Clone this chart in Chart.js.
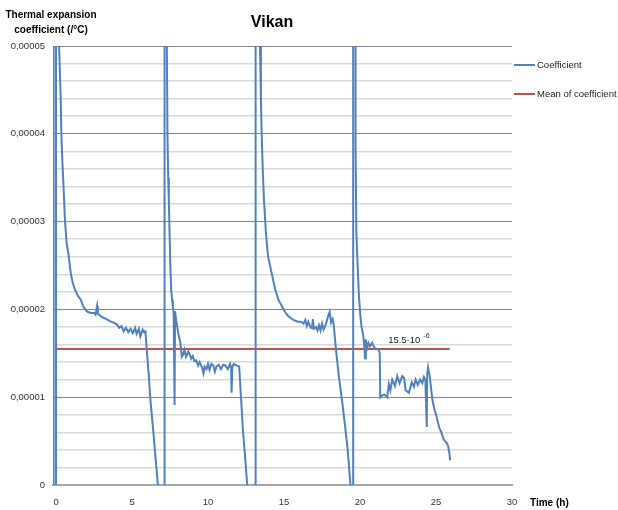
<!DOCTYPE html>
<html>
<head>
<meta charset="utf-8">
<script src="https://cdn.jsdelivr.net/npm/chart.js@4.4.0/dist/chart.umd.min.js"></script>
<style>
html, body { margin: 0; padding: 0; background: #fff; }
canvas { display: block; }
</style>
</head>
<body>
<canvas id="chart" width="618" height="510"></canvas>
<script>
// Values are in units of 1e-6 /°C, time in hours.
// +/-200 marks the off-scale jumps, null breaks the line.
const cycle1Time = [-0.17, -0.16, 0.0, 0.0, 0.1, 0.18, 0.2, 0.31, 0.35, 0.42, 0.53, 0.59, 0.7, 0.81, 0.97, 1.1, 1.26, 1.45, 1.63, 1.8, 1.96, 2.1, 2.3, 2.51, 2.6, 2.7, 2.75, 2.9, 3.04, 3.2, 3.4, 3.6, 3.8, 4.0, 4.16, 4.3, 4.45, 4.6, 4.75, 4.9, 5.05, 5.2, 5.3, 5.45, 5.55, 5.7, 5.8, 5.88, 5.97, 6.1, 6.21, 6.41, 6.55, 6.7, 6.8];
const cycle1Coef = [-200, 200, 200, -200, null, 60, 50, 43.8, 40, 36.7, 32.5, 30, 27.5, 26.4, 24.1, 23, 22.2, 21.5, 21.1, 20.3, 19.9, 19.7, 19.6, 19.6, 19.4, 20.4, 19.5, 19.3, 19.1, 19.0, 18.8, 18.6, 18.5, 18.3, 17.9, 18.1, 17.5, 17.9, 17.4, 17.8, 17.3, 17.9, 17.2, 17.8, 16.9, 17.7, 17.4, 17.5, 15.4, 12.5, 9.7, 5.9, 3.0, 0, -3];

const cycle2Time = [7.14, 7.14, 7.27, 7.29, 7.33, 7.38, 7.42, 7.47, 7.52, 7.58, 7.64, 7.69, 7.74, 7.8, 7.83, 7.9, 7.95, 8.05, 8.18, 8.27, 8.35, 8.45, 8.55, 8.7, 8.79, 8.9, 9.0, 9.1, 9.23, 9.35, 9.45, 9.6, 9.7, 9.78, 9.9, 10.0, 10.1, 10.22, 10.35, 10.45, 10.55, 10.7, 10.85, 11.0, 11.15, 11.3, 11.45, 11.52, 11.55, 11.6, 11.7, 11.77, 11.9, 12.05, 12.15, 12.31, 12.45, 12.58, 12.7];
const cycle2Coef = [-200, 200, 200, 50, 40, 35, 32.5, 28.7, 25, 22.2, 21, 20.3, 19.5, 9.1, 19.8, 18.8, 18.8, 17.2, 16.2, 14.6, 14.8, 15.4, 14.6, 15.2, 14.9, 14.4, 14.7, 14.1, 14.2, 13.6, 14.0, 13.4, 12.7, 13.5, 13.2, 13.8, 13.1, 13.8, 13.6, 12.9, 13.5, 13.7, 13.2, 13.7, 13.6, 13.2, 13.8, 13.3, 10.5, 13.5, 13.8, 13.7, 13.6, 13.5, 10.5, 5.9, 3.0, 0, -3];

const cycle3Time = [13.13, 13.13, 13.4, 13.42, 13.48, 13.53, 13.6, 13.68, 13.81, 13.95, 14.19, 14.4, 14.63, 14.85, 15.07, 15.3, 15.62, 15.9, 16.1, 16.28, 16.4, 16.5, 16.6, 16.75, 16.83, 16.9, 16.95, 17.1, 17.2, 17.3, 17.4, 17.5, 17.6, 17.75, 17.9, 18.0, 18.1, 18.2, 18.26, 18.42, 18.6, 18.81, 19.0, 19.19, 19.37, 19.45];
const cycle3Coef = [-200, 200, 200, 50, 44, 40, 36, 32.5, 28.7, 26, 24.1, 22.4, 21.1, 20.4, 19.7, 19.2, 18.8, 18.6, 18.6, 18.4, 18.8, 18.1, 18.6, 17.9, 17.9, 18.9, 17.8, 18.0, 17.6, 18.2, 17.6, 18.4, 17.7, 18.3, 19.2, 19.7, 18.5, 18.9, 18.4, 15.4, 12.5, 9.7, 7.0, 4.0, 0, -3];

const cycle4Time = [19.55, 19.55, 19.68, 19.7, 19.72, 19.76, 19.85, 19.93, 20.03, 20.1, 20.2, 20.28, 20.33, 20.38, 20.45, 20.55, 20.65, 20.8, 20.95, 21.1, 21.24, 21.3, 21.33, 21.46, 21.6, 21.79, 21.9, 22.0, 22.12, 22.3, 22.45, 22.6, 22.78, 22.9, 23.0, 23.22, 23.4, 23.55, 23.66, 23.8, 23.95, 24.1, 24.2, 24.3, 24.39, 24.42, 24.48, 24.6, 24.7, 24.76, 24.9, 25.05, 25.2, 25.35, 25.5, 25.6, 25.7, 25.8, 25.88, 25.93];
const cycle4Coef = [-200, 200, 200, 50, 38.2, 28.7, 24.8, 21.5, 19.1, 18.0, 17.2, 15.8, 14.4, 16.6, 15.5, 16.2, 15.8, 16.2, 15.6, 15.5, 15.4, 15.0, 10.0, 10.2, 10.3, 10.0, 11.5, 10.8, 12.0, 11.3, 12.4, 11.6, 12.4, 12.2, 10.8, 10.5, 11.7, 11.2, 12.0, 11.4, 12.0, 11.6, 12.3, 12.0, 6.6, 12.6, 13.4, 12.2, 10.6, 9.7, 8.6, 7.7, 6.6, 6.0, 5.2, 5.0, 4.8, 4.4, 3.6, 2.8];

const meanTime = [0, 25.9];
const meanCoef = [15.5, 15.5];

const xTickValues = [0, 5, 10, 15, 20, 25, 30];

// label of the mean line
const noteTime = 21.85;
const noteCoef = 16.5;
const noteText = '15.5·10';
const noteExp = '-6';

const FONT = "'Liberation Sans', Arial, sans-serif";

function toPoints(times, values) {
    return times.map((t, i) => ({ x: t, y: values[i] }));
}

// format 0.00001 style ticks with decimal comma
function formatTick(v) {
    if (v === 0) return '0';
    return (v * 1e-6).toFixed(5).replace('.', ',');
}

const coefficientPoints = [].concat(
    toPoints(cycle1Time, cycle1Coef),
    toPoints(cycle2Time, cycle2Coef),
    toPoints(cycle3Time, cycle3Coef),
    toPoints(cycle4Time, cycle4Coef)
);

// Titles, note and legend that Excel places freely
const textPlugin = {
    id: 'chartTexts',
    afterDraw(chart) {
        const c = chart.ctx;
        const xs = chart.scales.x, ys = chart.scales.y;
        c.save();
        c.fillStyle = '#000';
        c.textAlign = 'center';
        c.textBaseline = 'alphabetic';
        c.font = 'bold 16px ' + FONT;
        c.fillText('Vikan', 272, 27);

        c.font = 'bold 10px ' + FONT;
        c.fillText('Thermal expansion', 51, 18);
        c.fillText('coefficient (/°C)', 51, 33);

        c.textAlign = 'left';
        c.textBaseline = 'middle';
        c.fillText('Time (h)', xs.right + 18, 503);

        // note above the mean line
        const nx = xs.getPixelForValue(noteTime);
        const ny = ys.getPixelForValue(noteCoef);
        c.fillStyle = '#222';
        c.font = '9.5px ' + FONT;
        c.fillText(noteText, nx, ny);
        const w = c.measureText(noteText).width;
        c.font = '7px ' + FONT;
        c.fillText(noteExp, nx + w + 3, ny - 4);

        // legend
        c.font = '9.5px ' + FONT;
        chart.data.datasets.forEach((ds, i) => {
            const ly = 65 + i * 29;
            c.strokeStyle = ds.borderColor;
            c.lineWidth = 2;
            c.beginPath();
            c.moveTo(xs.right + 2, ly);
            c.lineTo(xs.right + 23, ly);
            c.stroke();
            c.fillStyle = '#222';
            c.fillText(ds.label, xs.right + 25, ly);
        });
        c.restore();
    }
};

const ctx = document.getElementById('chart').getContext('2d');
new Chart(ctx, {
    type: 'line',
    data: {
        datasets: [{
            label: 'Coefficient',
            data: coefficientPoints,
            borderColor: '#4f81bd',
            borderWidth: 2,
            pointRadius: 0,
            tension: 0,
            spanGaps: false
        }, {
            label: 'Mean of coefficient',
            data: toPoints(meanTime, meanCoef),
            borderColor: '#c0504d',
            borderWidth: 2,
            pointRadius: 0
        }]
    },
    options: {
        responsive: false,
        animation: false,
        layout: { padding: { top: 46, right: 106, left: 0, bottom: 0 } },
        plugins: {
            legend: { display: false },
            tooltip: { enabled: false }
        },
        scales: {
            x: {
                type: 'linear',
                min: -0.2,
                max: 30,
                afterBuildTicks: s => { s.ticks = xTickValues.map(v => ({ value: v })); },
                afterFit: s => { s.height = 25; },
                grid: { display: false, drawTicks: false },
                border: { display: true, color: '#a6a6a6', width: 2 },
                ticks: {
                    padding: 12,
                    maxRotation: 0,
                    color: '#333',
                    font: { family: FONT, size: 9.5 }
                }
            },
            y: {
                min: 0,
                max: 50,
                afterFit: s => { s.width = 53; },
                border: { display: false },
                grid: {
                    drawTicks: false,
                    color: c => c.tick.value === 0 ? 'rgba(0,0,0,0)' : (c.tick.value % 10 === 0 ? '#868686' : '#d9d9d9'),
                    lineWidth: c => c.tick.value % 10 === 0 ? 1 : 1.5
                },
                ticks: {
                    stepSize: 2,
                    autoSkip: false,
                    padding: 8,
                    color: '#333',
                    font: { family: FONT, size: 9.5 },
                    callback: v => v % 10 === 0 ? formatTick(v) : ''
                }
            }
        }
    },
    plugins: [textPlugin]
});
</script>
</body>
</html>
